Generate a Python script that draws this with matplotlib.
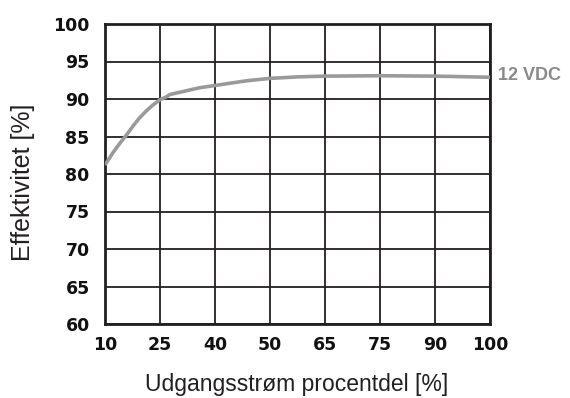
import matplotlib
matplotlib.use('Agg')
import matplotlib.pyplot as plt

plt.rcParams['font.family'] = ['Liberation Sans', 'DejaVu Sans']

# kategorier paa x-aksen (lige store afstande)
x_labels = ['10', '25', '40', '50', '65', '75', '90', '100']
y_ticks = [60, 65, 70, 75, 80, 85, 90, 95, 100]

# kurvepunkter aflaest fra billedet (position i kategori-indeks, effektivitet %)
curve_pos = [0, 0.14, 0.26, 0.38, 0.51, 0.63, 0.75, 0.87, 1.0, 1.12, 1.18,
             1.42, 1.72, 2.0, 2.27, 2.6, 3, 3.5, 4, 5, 6, 7]
curve_val = [81.2, 82.8, 84.0, 85.1, 86.4, 87.5, 88.4, 89.2, 89.9, 90.3, 90.6,
             91.0, 91.5, 91.8, 92.1, 92.45, 92.75, 92.95, 93.05, 93.1, 93.05, 92.9]
series_name = '12 VDC'

grid_col = '#231f20'
line_col = '#9a9a9a'

fig = plt.figure(figsize=(5.70, 3.98), dpi=100)
ax = fig.add_axes([105 / 570, 1 - 324 / 398, 385 / 570, 300 / 398])

ax.plot(curve_pos, curve_val, color=line_col, lw=2.6, solid_capstyle='butt',
        solid_joinstyle='round', zorder=3)

ax.set_xlim(0, len(x_labels) - 1)
ax.set_ylim(60, 100)
ax.set_xticks(range(len(x_labels)))
ax.set_xticklabels(x_labels)
ax.set_yticks(y_ticks)
ax.grid(True, color=grid_col, lw=1.3)
for s in ax.spines.values():
    s.set_color(grid_col)
    s.set_linewidth(2)
ax.tick_params(length=0)
ax.tick_params(axis='x', pad=9)
ax.tick_params(axis='y', pad=11)
for t in ax.get_xticklabels() + ax.get_yticklabels():
    t.set_fontfamily('DejaVu Sans')
    t.set_fontweight('bold')
    t.set_fontsize(12.5)
    t.set_color('#111111')

# aksetitler placeret i pixel (figurkoordinater)
fig.text(297 / 570, 1 - 384 / 398, 'Udgangsstrøm procentdel [%]', fontsize=16.5,
         color='#231f20', ha='center', va='center')
fig.text(23 / 570, 1 - 182 / 398, 'Effektivitet [%]', fontsize=18, rotation=90,
         color='#231f20', ha='center', va='center')

ax.annotate(series_name, xy=(1, curve_val[-1]), xycoords=('axes fraction', 'data'),
            xytext=(6, 1), textcoords='offset points', va='center', ha='left',
            fontsize=13, fontweight='bold', color='#8a8a8a')

fig.savefig('out.png', dpi=100)
